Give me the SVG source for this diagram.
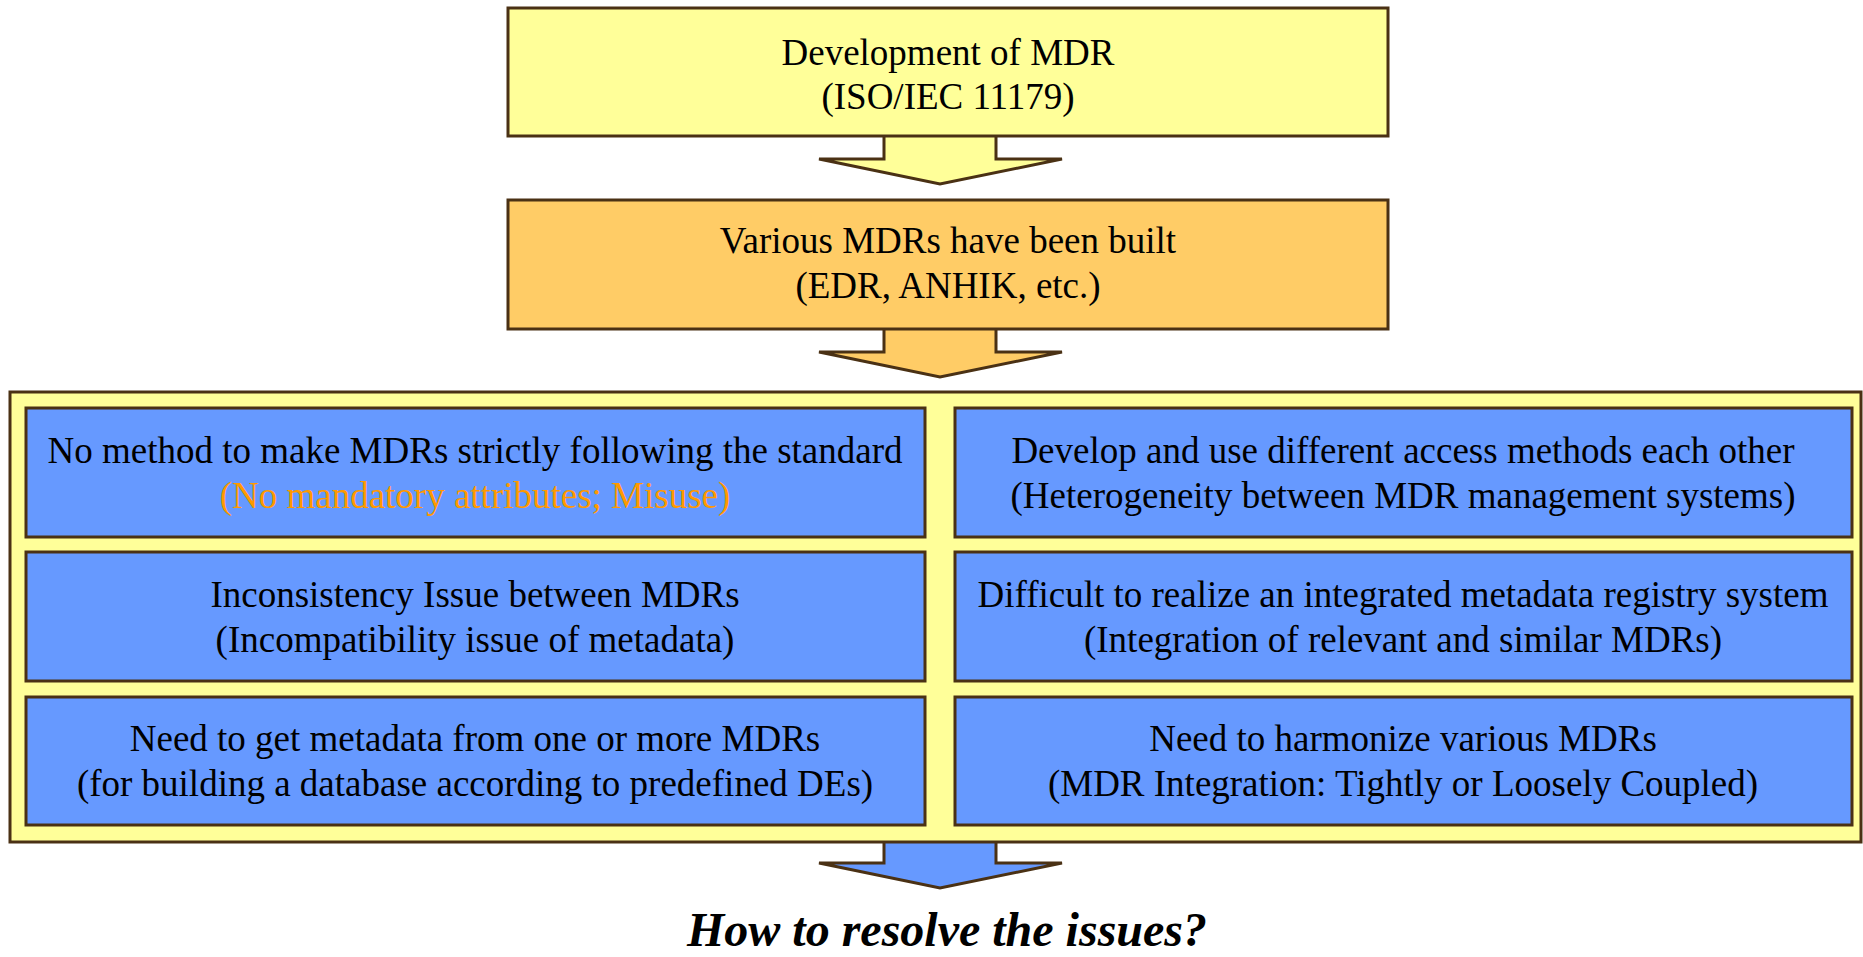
<svg xmlns="http://www.w3.org/2000/svg" width="1863" height="957" viewBox="0 0 1863 957">
  <style>
    .box { stroke: #4a3114; stroke-width: 3; }
    .yellow { fill: #ffff99; }
    .orange { fill: #ffcc66; }
    .blue { fill: #6699ff; }
    .arrow { stroke: #4a3114; stroke-width: 3; stroke-linejoin: miter; }
    .t { font-family: "Liberation Serif", "Times New Roman", serif; font-size: 37px; fill: #000; text-anchor: middle; }
    .note { fill: #ff9900; }
    .q { font-family: "Liberation Serif", "Times New Roman", serif; font-size: 48px; font-weight: bold; font-style: italic; fill: #000; text-anchor: middle; }
  </style>
  <rect width="1863" height="957" fill="#ffffff"/>

  <!-- block arrows between stages -->
  <g id="connectors">
    <path class="arrow yellow" d="M884,136 V159 H819 L940,184 L1062,159 H996 V136"/>
    <path class="arrow orange" d="M884,329 V352 H819 L940,377 L1062,352 H996 V329"/>
    <path class="arrow blue" d="M884,842 V863 H819 L940,888 L1062,863 H996 V842"/>
  </g>

  <g id="development">
    <rect class="box yellow" x="508" y="8" width="880" height="128"/>
    <text class="t" x="948" y="65">Development of MDR</text>
    <text class="t" x="948" y="109">(ISO/IEC 11179)</text>
  </g>

  <g id="various-mdrs">
    <rect class="box orange" x="508" y="200" width="880" height="129"/>
    <text class="t" x="948" y="253">Various MDRs have been built</text>
    <text class="t" x="948" y="298">(EDR, ANHIK, etc.)</text>
  </g>

  <g id="issues">
    <rect class="box yellow" x="10" y="392" width="1851" height="450"/>
  </g>

  <g id="issue-standard">
    <rect class="box blue" x="26" y="408" width="899" height="129"/>
    <text class="t" x="475" y="463">No method to make MDRs strictly following the standard</text>
    <text class="t note" x="475" y="508">(No mandatory attributes; Misuse)</text>
  </g>

  <g id="issue-access">
    <rect class="box blue" x="955" y="408" width="897" height="129"/>
    <text class="t" x="1403" y="463">Develop and use different access methods each other</text>
    <text class="t" x="1403" y="508">(Heterogeneity between MDR management systems)</text>
  </g>

  <g id="issue-consistency">
    <rect class="box blue" x="26" y="552" width="899" height="129"/>
    <text class="t" x="475" y="607">Inconsistency Issue between MDRs</text>
    <text class="t" x="475" y="652">(Incompatibility issue of metadata)</text>
  </g>

  <g id="issue-integration">
    <rect class="box blue" x="955" y="552" width="897" height="129"/>
    <text class="t" x="1403" y="607">Difficult to realize an integrated metadata registry system</text>
    <text class="t" x="1403" y="652">(Integration of relevant and similar MDRs)</text>
  </g>

  <g id="issue-metadata">
    <rect class="box blue" x="26" y="697" width="899" height="128"/>
    <text class="t" x="475" y="751">Need to get metadata from one or more MDRs</text>
    <text class="t" x="475" y="796">(for building a database according to predefined DEs)</text>
  </g>

  <g id="issue-harmonize">
    <rect class="box blue" x="955" y="697" width="897" height="128"/>
    <text class="t" x="1403" y="751">Need to harmonize various MDRs</text>
    <text class="t" x="1403" y="796">(MDR Integration: Tightly or Loosely Coupled)</text>
  </g>

  <g id="question">
    <text class="q" x="947" y="946">How to resolve the issues?</text>
  </g>
</svg>
